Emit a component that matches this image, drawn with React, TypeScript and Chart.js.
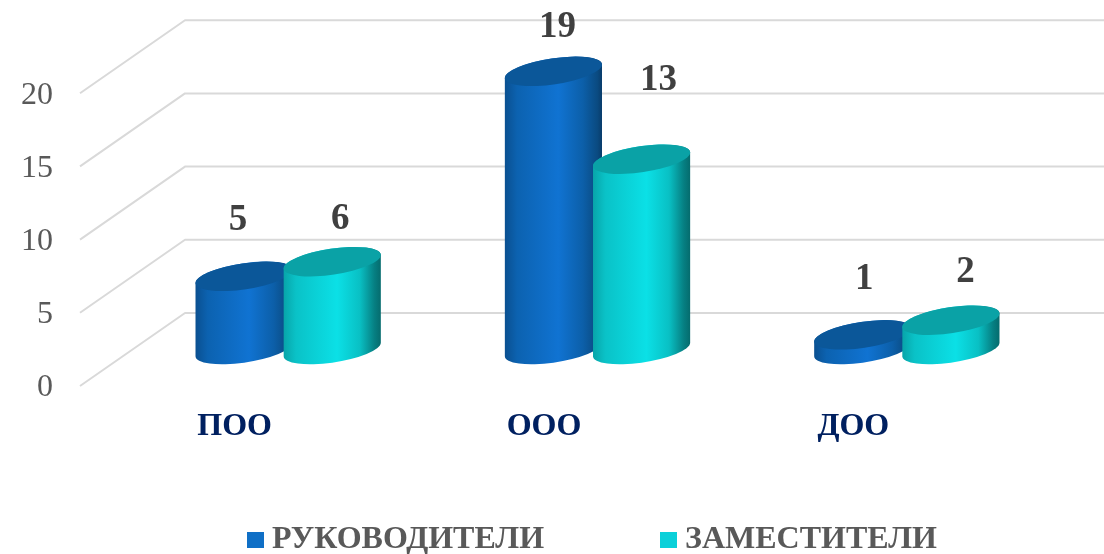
import React, { useEffect, useRef } from "react";
import { Chart, registerables } from "chart.js";

Chart.register(...registerables);

const categories = ["ПОО", "ООО", "ДОО"];
const seriesNames = ["РУКОВОДИТЕЛИ", "ЗАМЕСТИТЕЛИ"];
const leaders = [5, 19, 1];
const deputies = [6, 13, 2];
const yTickMax = 20;

const SERIF = "'Liberation Serif', serif";
const DEPTH_X = 105;
const DEPTH_Y = 73;
const TILT = (-8.5 * Math.PI) / 180;
const RY = 13;

const looks = [
  {
    legend: "#0F6FC6",
    top: "#0B5799",
    stops: [
      [0, "#0A4F8F"],
      [0.13, "#0C62B0"],
      [0.55, "#1073D2"],
      [0.8, "#0C5FA9"],
      [0.95, "#0A4A80"],
      [1, "#083A68"],
    ],
  },
  {
    legend: "#0BD0D9",
    top: "#0AA2A6",
    stops: [
      [0, "#08A4A8"],
      [0.13, "#0AC2C7"],
      [0.55, "#0BE0E6"],
      [0.78, "#09C0C4"],
      [0.93, "#067F82"],
      [1, "#056A6C"],
    ],
  },
];

// label nudges relative to the top of each cylinder: [dx, dy] per series / category
const labelNudge = [
  [[-6, -55.5], [4, -43.5], [1.5, -55.5]],
  [[8, -42.5], [17, -78.5], [14.5, -47.5]],
];

const scene = {
  id: "scene3d",
  beforeDatasetDraw() {
    return false;
  },
  beforeDatasetsDraw(chart: any) {
    const { ctx, chartArea, scales } = chart;
    ctx.save();
    ctx.strokeStyle = "#D9D9D9";
    ctx.lineWidth = 2;
    ctx.lineJoin = "round";
    scales.y.ticks.forEach((t: any) => {
      const y = scales.y.getPixelForValue(t.value);
      ctx.beginPath();
      ctx.moveTo(chartArea.left, y);
      ctx.lineTo(chartArea.left + DEPTH_X, y - DEPTH_Y);
      ctx.lineTo(chart.width, y - DEPTH_Y);
      ctx.stroke();
    });
    ctx.restore();
  },
  afterDatasetsDraw(chart: any) {
    const ctx = chart.ctx;
    const offX = DEPTH_X / 2 + 1;
    const offY = DEPTH_Y / 2;
    chart.data.datasets.forEach((ds: any, s: number) => {
      const look = looks[s];
      chart.getDatasetMeta(s).data.forEach((el: any) => {
        const cx = el.x + offX;
        const rx = el.width / 2 + 0.5;
        const topY = el.y - offY;
        const baseY = el.base - offY;
        const t0 = Math.atan((RY / rx) * Math.tan(-TILT));
        const g = ctx.createLinearGradient(cx - rx, 0, cx + rx, 0);
        look.stops.forEach(([p, c]: any) => g.addColorStop(p, c));
        ctx.save();
        ctx.fillStyle = g;
        ctx.beginPath();
        ctx.ellipse(cx, baseY, rx, RY, TILT, t0, t0 + Math.PI, false);
        ctx.ellipse(cx, topY, rx, RY, TILT, t0 + Math.PI, t0 + 2 * Math.PI, false);
        ctx.closePath();
        ctx.fill();
        ctx.fillStyle = look.top;
        ctx.beginPath();
        ctx.ellipse(cx, topY, rx, RY, TILT, 0, 2 * Math.PI);
        ctx.fill();
        ctx.restore();
      });
    });
    // value labels
    ctx.save();
    ctx.font = `bold 37px ${SERIF}`;
    ctx.fillStyle = "#404040";
    ctx.textAlign = "center";
    ctx.textBaseline = "middle";
    chart.data.datasets.forEach((ds: any, s: number) => {
      chart.getDatasetMeta(s).data.forEach((el: any, i: number) => {
        const [nx, ny] = labelNudge[s][i];
        ctx.fillText(String(ds.data[i]), el.x + offX + nx, el.y - offY + ny);
      });
    });
    ctx.restore();
    // legend
    ctx.save();
    ctx.font = `bold 32px ${SERIF}`;
    ctx.textBaseline = "middle";
    ctx.textAlign = "left";
    const legendX = [247, 660];
    chart.data.datasets.forEach((ds: any, s: number) => {
      ctx.fillStyle = looks[s].legend;
      ctx.fillRect(legendX[s], 532, 17, 16);
      ctx.fillStyle = "#595959";
      ctx.fillText(ds.label, legendX[s] + 25, 540);
    });
    ctx.restore();
  },
};

export default function App() {
  const ref = useRef<HTMLCanvasElement>(null);
  useEffect(() => {
    const chart = new Chart(ref.current as any, {
      type: "bar",
      data: {
        labels: categories,
        datasets: [
          { label: seriesNames[0], data: leaders, backgroundColor: looks[0].legend },
          { label: seriesNames[1], data: deputies, backgroundColor: looks[1].legend },
        ],
      },
      plugins: [scene],
      options: {
        animation: false,
        responsive: false,
        layout: { padding: { top: 20, right: 96, left: 0, bottom: 0 } },
        datasets: { bar: { categoryPercentage: 0.57, barPercentage: 1.102 } },
        plugins: { legend: { display: false }, tooltip: { enabled: false } },
        scales: {
          x: {
            grid: { display: false },
            border: { display: false },
            ticks: {
              font: { family: SERIF, size: 32, weight: "bold" },
              color: "#002060",
              padding: 14,
              maxRotation: 0,
            },
            afterFit: (s: any) => {
              s.height = 168;
              s.paddingLeft = 0;
              s.paddingRight = 0;
            },
          },
          y: {
            min: 0,
            max: 25,
            grid: { display: false },
            border: { display: false },
            ticks: {
              stepSize: 5,
              font: { family: SERIF, size: 32 },
              color: "#595959",
              padding: 19,
              labelOffset: 2,
            },
            afterBuildTicks: (s: any) => {
              s.ticks = s.ticks.filter((t: any) => t.value <= yTickMax);
            },
            afterFit: (s: any) => {
              s.width = 80;
              s.paddingTop = 0;
              s.paddingBottom = 0;
            },
          },
        },
      },
    } as any);
    return () => chart.destroy();
  }, []);
  return (
    <canvas
      ref={ref}
      width={1104}
      height={554}
      style={{ position: "fixed", left: 0, top: 0, width: 1104, height: 554, background: "#fff" }}
    />
  );
}
